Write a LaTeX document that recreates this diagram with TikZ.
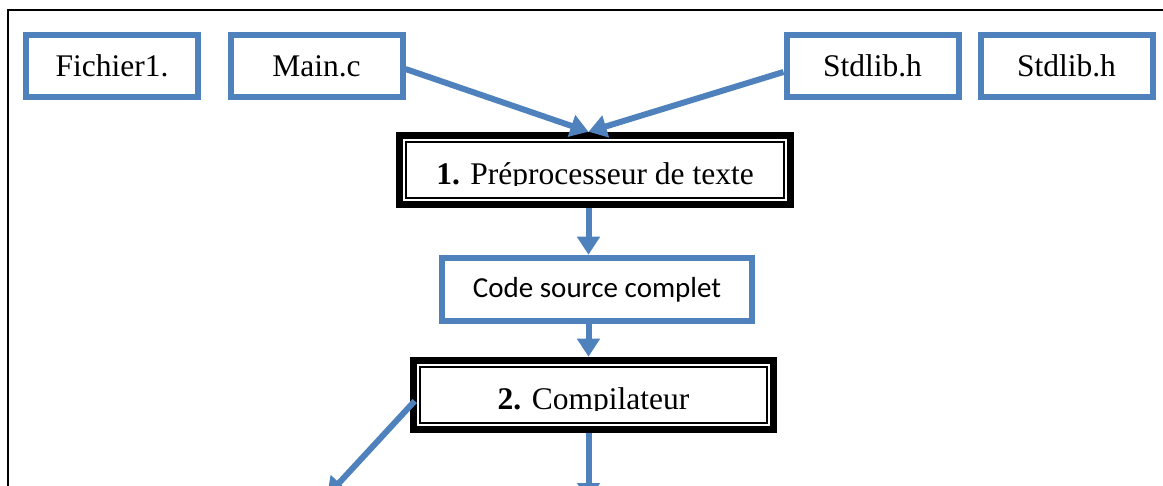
\documentclass[tikz,border=0pt]{standalone}
\usepackage{fontspec}
\setmainfont{Liberation Serif}
\newfontfamily\calib{Carlito}
\usetikzlibrary{arrows.meta,calc}
\definecolor{wblue}{HTML}{4F81BD}
\begin{document}
\begin{tikzpicture}[x=1pt,y=-1pt,
  fbox/.style={draw=wblue, line width=6pt, minimum width=172pt, minimum height=62pt,
    inner sep=0pt, font=\fontsize{31.5}{36}\selectfont, text height=21pt, text depth=0pt},
  dbox/.style={draw=black, line width=7.5pt, inner sep=0pt, minimum height=69pt,
    font=\fontsize{31.5}{36}\selectfont, text depth=0pt},
  cbox/.style={draw=wblue, line width=6.5pt, minimum width=310pt, minimum height=63pt,
    inner sep=0pt, font=\calib\fontsize{29}{34}\selectfont, text height=17pt, text depth=0pt},
  innerline/.style={draw=black, line width=2pt},
  arr/.style={draw=wblue, line width=6pt, -{Triangle[width=22pt,length=18pt]}},
  frameline/.style={draw=black, line width=1.8pt}]
\clip (0,0) rectangle (1163,486);
\fill[white] (0,0) rectangle (1163,486);
\draw[frameline] (8,490) -- (8,10) -- (1170,10);

\node[fbox] (f1) at (112,66) {Fichier1.};
\node[fbox] (mc) at (316.5,66) {Main.c};
\node[fbox] (s1) at (872.5,66) {Stdlib.h};
\node[fbox] (s2) at (1066.5,66) {Stdlib.h};

\node[dbox, minimum width=391pt, text height=30pt] (pre) at (595,170) {\textbf{1.} Préprocesseur de texte};
\fill[white] ([shift={(-186,1.5)}]pre.base) rectangle ([shift={(186,10)}]pre.base);
\draw[innerline] ([shift={(10.5,10.5)}]pre.north west) rectangle ([shift={(-10.5,-10.5)}]pre.south east);

\node[cbox] (code) at (597,289.5) {Code source complet};

\node[dbox, minimum width=360pt, text height=29pt] (comp) at (593.5,395) {\textbf{2.} Compilateur};
\fill[white] ([shift={(-170,1.5)}]comp.base) rectangle ([shift={(170,10)}]comp.base);
\draw[innerline] ([shift={(10.5,10.5)}]comp.north west) rectangle ([shift={(-10.5,-10.5)}]comp.south east);

\coordinate (ax) at (588.5,0);
\coordinate (t1) at (327,496);
\coordinate (t2) at (588.5,501);

\draw[arr] ($(mc.east)+(0,3)$) -- (pre.north -| ax);
\draw[arr] ($(s1.west)+(0,6)$) -- (pre.north -| ax);
\draw[arr] (pre.south -| ax) -- (code.north -| ax);
\draw[arr] (code.south -| ax) -- (comp.north -| ax);
\draw[arr] ($(comp.west)+(5,6)$) -- (t1);
\draw[arr] (comp.south -| ax) -- (t2);
\end{tikzpicture}
\end{document}
